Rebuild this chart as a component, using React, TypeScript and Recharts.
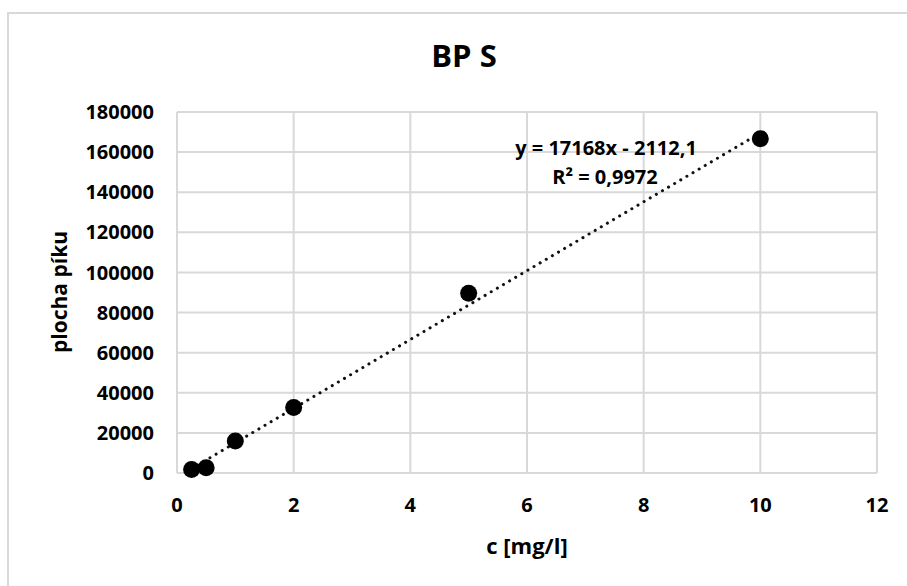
import {
  ScatterChart,
  Scatter,
  XAxis,
  YAxis,
  CartesianGrid,
  ReferenceLine,
} from "recharts";

const concentration = [0.25, 0.5, 1, 2, 5, 10];
const peakArea = [1800, 2600, 15900, 32700, 89600, 166700];
const xTicks = [0, 2, 4, 6, 8, 10, 12];
const yTicks = [0, 20000, 40000, 60000, 80000, 100000, 120000, 140000, 160000, 180000];
const trendX = [0.25, 10];
const trendY = [2180, 169568];
const title = "BP S";
const xLabel = "c [mg/l]";
const yLabel = "plocha píku";
const equation = "y = 17168x - 2112,1";
const rSquared = "R² = 0,9972";

const font = "'Open Sans', sans-serif";
const grey = "#d9d9d9";

const points = concentration.map((c, i) => ({ x: c, y: peakArea[i] }));

function Dot(props: any) {
  return <circle cx={props.cx} cy={props.cy} r={8.5} fill="#000" />;
}

export default function App() {
  const tickStyle = { fontFamily: font, fontSize: 20, fontWeight: 700, fill: "#000" };
  return (
    <div
      style={{
        position: "fixed",
        left: 0,
        top: 0,
        width: 907,
        height: 586,
        overflow: "hidden",
        background: "#fff",
      }}
    >
      <div
        style={{
          position: "absolute",
          left: 7,
          top: 12,
          width: 940,
          height: 620,
          border: `2px solid ${grey}`,
        }}
      />
      <div style={{ position: "absolute", left: 0, top: 0 }}>
        <ScatterChart
          width={907}
          height={586}
          margin={{ top: 112, right: 30, bottom: 53, left: 77 }}
        >
          <CartesianGrid stroke={grey} strokeWidth={2} />
          <XAxis
            type="number"
            dataKey="x"
            domain={[0, 12]}
            ticks={xTicks}
            height={60}
            axisLine={{ stroke: grey, strokeWidth: 2 }}
            tickLine={false}
            tickSize={0}
            tickMargin={25}
            tick={tickStyle}
          />
          <YAxis
            type="number"
            dataKey="y"
            domain={[0, 180000]}
            ticks={yTicks}
            width={100}
            axisLine={{ stroke: grey, strokeWidth: 2 }}
            tickLine={false}
            tickSize={0}
            tickMargin={23}
            tick={tickStyle}
          />
          <Scatter data={points} shape={Dot} isAnimationActive={false} />
          <ReferenceLine
            segment={[
              { x: trendX[0], y: trendY[0] },
              { x: trendX[1], y: trendY[1] },
            ]}
            stroke="#111"
            strokeWidth={3}
            strokeDasharray="0.1 7"
            strokeLinecap="round"
            ifOverflow="visible"
          />
        </ScatterChart>
      </div>
      <svg
        width={907}
        height={586}
        style={{ position: "absolute", left: 0, top: 0, pointerEvents: "none" }}
        fontFamily={font}
        fontWeight={700}
      >
        <text x={464} y={67} textAnchor="middle" fontSize={31}>
          {title}
        </text>
        <text x={606} y={155} textAnchor="middle" fontSize={20}>
          {equation}
        </text>
        <text x={605} y={184} textAnchor="middle" fontSize={20}>
          {rSquared}
        </text>
        <text x={527} y={554} textAnchor="middle" fontSize={22}>
          {xLabel}
        </text>
        <text
          x={67}
          y={292}
          textAnchor="middle"
          fontSize={21}
          transform="rotate(-90, 67, 292)"
        >
          {yLabel}
        </text>
      </svg>
    </div>
  );
}
